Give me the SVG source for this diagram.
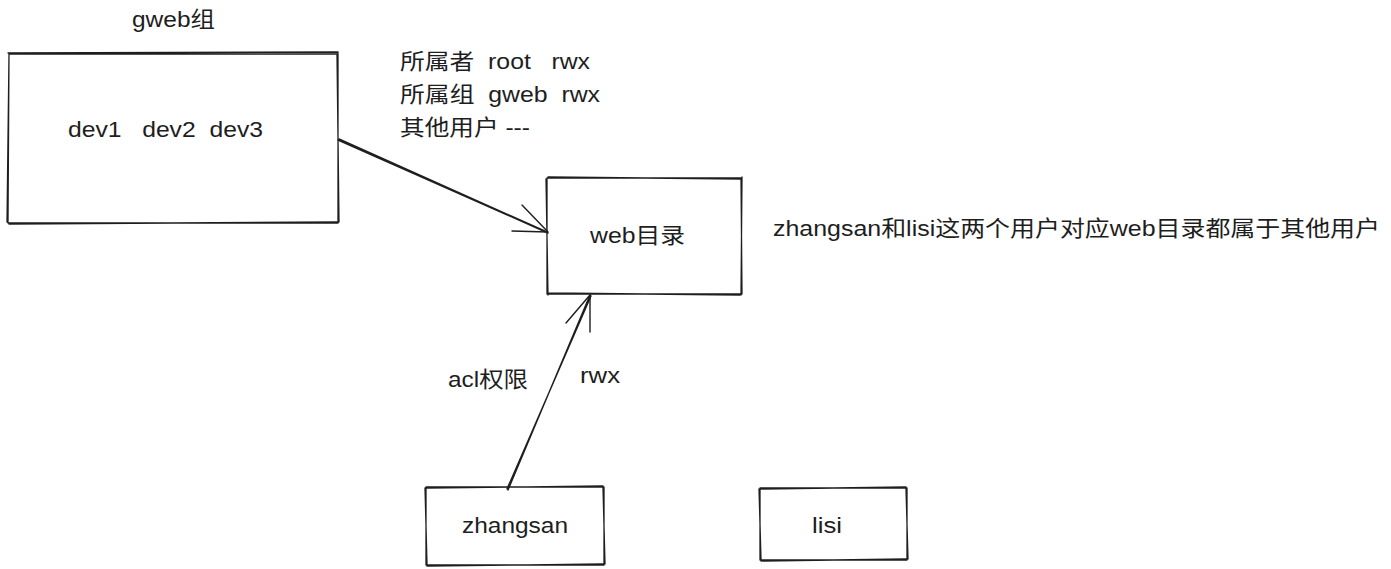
<svg xmlns="http://www.w3.org/2000/svg" width="1391" height="569" viewBox="0 0 1391 569">
<style>
.box{fill:none;stroke:#1e1e1e;stroke-width:1.3;stroke-linecap:round;stroke-linejoin:round}
.edge{fill:none;stroke:#1e1e1e;stroke-width:1.4;stroke-linecap:round}
text{font-family:"Liberation Sans","Noto Sans CJK SC",sans-serif;font-size:22px;fill:#1e1e1e}
</style>
<rect width="1391" height="569" fill="#ffffff"/>
<g id="gweb-group">
<path class="box" d="M8 53 L338 52 M9 54 L337 54 M338 52 L338 223 M337 55 L339 222 M338 223 L8 223 M337 222 L9 224 M8 223 L9 53 M7 222 L9 54"/>
<text x="132" y="27" textLength="83" lengthAdjust="spacingAndGlyphs">gweb组</text>
<text x="68" y="137" textLength="195" lengthAdjust="spacingAndGlyphs" xml:space="preserve">dev1   dev2  dev3</text>
</g>
<g id="perm-note">
<text x="400" y="69" textLength="190" lengthAdjust="spacingAndGlyphs" xml:space="preserve">所属者  root   rwx</text>
<text x="400" y="102" textLength="200" lengthAdjust="spacingAndGlyphs" xml:space="preserve">所属组  gweb  rwx</text>
<text x="400" y="135" textLength="130" lengthAdjust="spacingAndGlyphs" xml:space="preserve">其他用户 ---</text>
</g>
<g id="web-dir">
<path class="box" d="M547 178 L741 178 M548 177 L742 179 M741 178 L742 294 M742 177 L741 295 M741 294 L547 294 M740 295 L548 293 M547 294 L547 178 M548 295 L546 179"/>
<text x="590" y="243" textLength="95" lengthAdjust="spacingAndGlyphs">web目录</text>
</g>
<g id="other-note">
<text x="773" y="236" textLength="607" lengthAdjust="spacingAndGlyphs">zhangsan和lisi这两个用户对应web目录都属于其他用户</text>
</g>
<g id="zhangsan">
<path class="box" d="M426 487 L604 487 M427 488 L603 486 M604 487 L604 565 M603 488 L605 564 M604 565 L426 565 M603 564 L427 566 M426 565 L426 487 M427 564 L425 488"/>
<text x="462" y="533" textLength="106" lengthAdjust="spacingAndGlyphs">zhangsan</text>
</g>
<g id="lisi">
<path class="box" d="M760 488 L907 488 M761 489 L906 487 M907 488 L907 560 M906 489 L908 559 M907 560 L760 560 M906 559 L761 561 M760 560 L760 488 M761 559 L759 489"/>
<text x="812" y="533" textLength="30" lengthAdjust="spacingAndGlyphs">lisi</text>
</g>
<g id="connectors">
<path class="edge" d="M338 140 L548 233 M339 139 L547 232"/>
<path class="edge" d="M522 205 L548 232 M512 231 L548 232"/>
<path class="edge" d="M508 490 L590 295 M507 489 L591 296"/>
<path class="edge" d="M566 323 L590 295 L590 332"/>
<text x="448" y="387" textLength="80" lengthAdjust="spacingAndGlyphs">acl权限</text>
<text x="580" y="383" textLength="40" lengthAdjust="spacingAndGlyphs">rwx</text>
</g>
</svg>
